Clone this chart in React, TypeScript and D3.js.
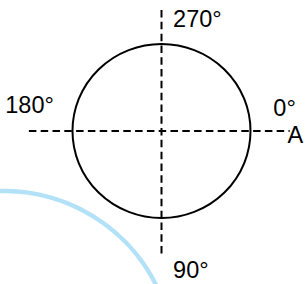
import React, { useEffect, useRef } from 'react';
import * as d3 from 'd3';

// angle labels, in degrees (0 = right, 90 = down, like the picture)
const angles = [0, 90, 180, 270];
const angleLabels = ['0°', '90°', '180°', '270°'];
const pointLabel = 'A';
const radius = 1;

function App() {
  const svgRef = useRef<SVGSVGElement>(null);

  const width = 305;
  const height = 284;

  useEffect(() => {
    const svg = d3.select(svgRef.current);
    svg.selectAll('*').remove();

    const x = d3.scaleLinear().domain([-1, 1]).range([72.5, 250.5]);
    const y = d3.scaleLinear().domain([-1, 1]).range([44, 218]);

    // faint blue arc in the background
    const arc = d3.arc()
      .innerRadius(170)
      .outerRadius(170)
      .startAngle(-0.1)
      .endAngle(1.2);
    svg.append('path')
      .attr('transform', 'translate(4, 361)')
      .attr('d', arc({} as any))
      .attr('fill', 'none')
      .attr('stroke', '#b3e2f8')
      .attr('stroke-width', 4.5)
      .style('filter', 'blur(0.6px)');

    const g = svg.append('g');

    // dashed axes
    g.append('line')
      .attr('x1', x(-1.49)).attr('x2', x(1.44))
      .attr('y1', y(0)).attr('y2', y(0))
      .attr('stroke', '#000')
      .attr('stroke-width', 2)
      .attr('stroke-dasharray', '7.5,4.3');
    g.append('line')
      .attr('x1', x(0)).attr('x2', x(0))
      .attr('y1', y(-1.39)).attr('y2', y(1.42))
      .attr('stroke', '#000')
      .attr('stroke-width', 2)
      .attr('stroke-dasharray', '7.5,4.3');

    // circle
    g.append('ellipse')
      .attr('cx', x(0)).attr('cy', y(0))
      .attr('rx', x(radius) - x(0)).attr('ry', y(radius) - y(0))
      .attr('fill', 'none')
      .attr('stroke', '#000')
      .attr('stroke-width', 2);

    // label positions per angle (unit coords)
    const labelPos: Record<number, [number, number]> = {
      0: [1.257, -0.178],
      90: [0.13, 1.69],
      180: [-1.755, -0.207],
      270: [0.13, -1.195],
    };

    g.selectAll('text.ang')
      .data(angles)
      .join('text')
      .attr('class', 'ang')
      .attr('x', d => x(labelPos[d][0]))
      .attr('y', d => y(labelPos[d][1]))
      .attr('font-family', 'Liberation Sans, Arial, sans-serif')
      .attr('font-size', 23.5)
      .attr('fill', '#000')
      .text((d, i) => angleLabels[i]);

    g.append('text')
      .attr('x', x(1.415))
      .attr('y', y(0.138))
      .attr('font-family', 'Liberation Sans, Arial, sans-serif')
      .attr('font-size', 23.5)
      .attr('fill', '#000')
      .text(pointLabel);
  }, []);

  return (
    <svg
      ref={svgRef}
      width={width}
      height={height}
      style={{ position: 'absolute', left: 0, top: 0, background: '#fff' }}
    />
  );
}

export default App;
